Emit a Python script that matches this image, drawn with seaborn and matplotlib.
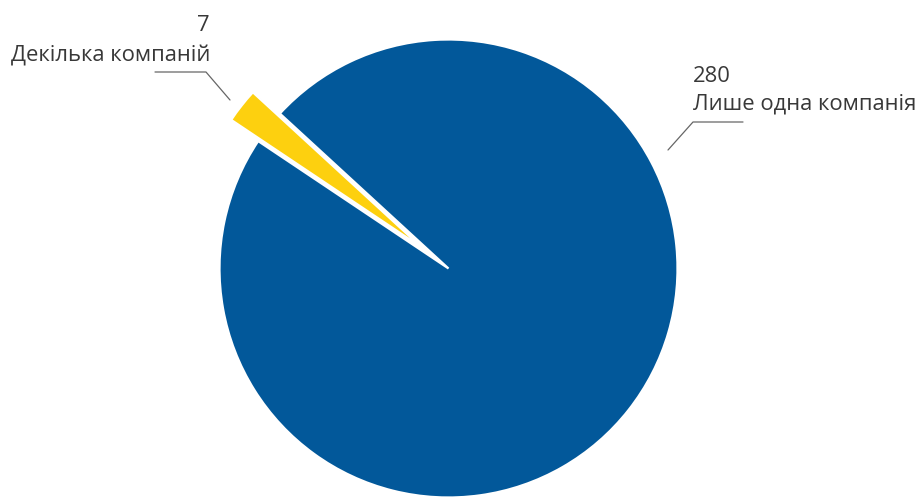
import matplotlib
matplotlib.use("Agg")
import matplotlib.pyplot as plt
from matplotlib.lines import Line2D
import seaborn as sns

# Number of cases by how many companies were involved
categories = ["Лише одна компанія", "Декілька компаній"]
values = [280, 7]
colors = ["#02589A", "#FDD00F"]
explode = [0.0, 0.15]

sns.set_theme(style="white")
plt.rcParams["font.family"] = ["Open Sans", "DejaVu Sans"]

W, H = 919, 497
fig = plt.figure(figsize=(W / 100, H / 100), dpi=100)
fig.patch.set_facecolor("white")

# pie centre and radius in pixels
cx, cy, r = 448.5, 268.5, 229.0
ax = fig.add_axes([(cx - r) / W, 1 - (cy + r) / H, 2 * r / W, 2 * r / H])
ax.pie(values, colors=colors, explode=explode, startangle=146.2,
       counterclock=True, radius=1.0,
       wedgeprops=dict(edgecolor="white", linewidth=1.6))
ax.set_xlim(-1, 1)
ax.set_ylim(-1, 1)
ax.axis("off")


def px(x, y):
    return x / W, 1 - y / H


text_color = "#383838"
line_color = "#666666"
fs = 15.8

# labels for the small slice (upper left)
fig.text(*px(210, 31), f"{values[1]}", ha="right", va="baseline",
         fontsize=fs, color=text_color)
fig.text(*px(210, 61), categories[1], ha="right", va="baseline",
         fontsize=fs, color=text_color)
xs, ys = zip(*[px(230, 100), px(206, 72), px(155, 72)])
fig.add_artist(Line2D(xs, ys, transform=fig.transFigure,
                      color=line_color, linewidth=0.9))

# labels for the large slice (right)
fig.text(*px(693, 82), f"{values[0]}", ha="left", va="baseline",
         fontsize=fs, color=text_color)
fig.text(*px(693, 110), categories[0], ha="left", va="baseline",
         fontsize=fs, color=text_color)
xs, ys = zip(*[px(668, 150), px(693, 122), px(743, 122)])
fig.add_artist(Line2D(xs, ys, transform=fig.transFigure,
                      color=line_color, linewidth=0.9))

fig.savefig("out.png", dpi=100, facecolor="white")
